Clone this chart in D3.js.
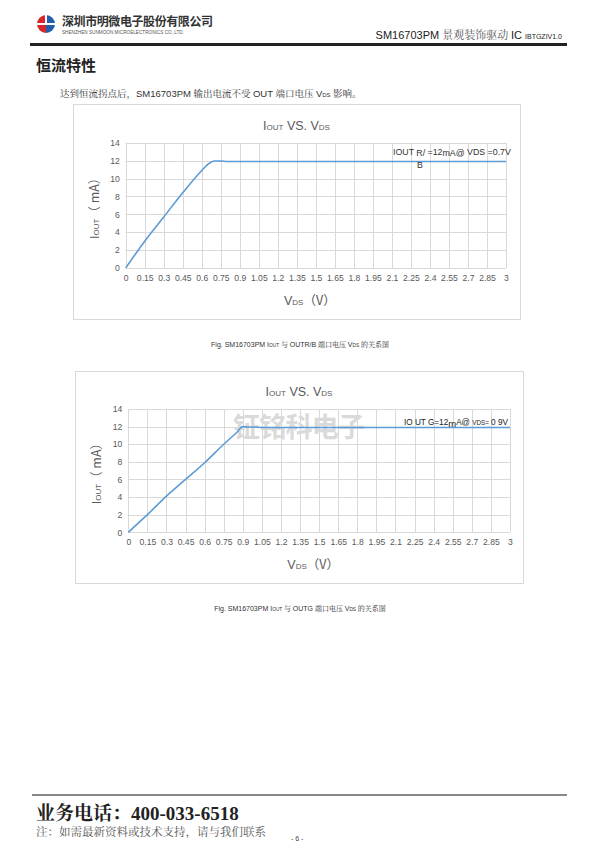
<!DOCTYPE html>
<html><head><meta charset="utf-8">
<script src="https://cdn.jsdelivr.net/npm/d3@7"></script>
<style>html,body{margin:0;padding:0;background:#fff;}svg{display:block;}</style>
</head><body>
<script>
// ---- data ----
const xTicks = [0,0.15,0.3,0.45,0.6,0.75,0.9,1.05,1.2,1.35,1.5,1.65,1.8,1.95,2.1,2.25,2.4,2.55,2.7,2.85,3];
const yTicks = [0,2,4,6,8,10,12,14];
const vdsRB = [0,0.15,0.3,0.45,0.6,0.65,0.7,0.75,0.8,0.9,1.2,1.5,1.8,2.1,2.4,2.7,3];
const ioutRB = [0,3.0,5.7,8.4,10.9,11.6,11.95,11.95,11.9,11.9,11.9,11.9,11.9,11.9,11.9,11.9,11.9];
const vdsG = [0,0.15,0.3,0.45,0.6,0.75,0.85,0.9,0.95,1.2,1.5,1.8,2.1,2.4,2.7,3];
const ioutG = [0,2.0,4.1,6.0,7.9,10.0,11.3,12.0,11.95,11.9,11.9,11.9,11.9,11.9,11.9,11.9];

const W=600,H=849;
const svg=d3.select("body").append("svg").attr("width",W).attr("height",H);
const sans="'Liberation Sans', Arial, sans-serif";
const cjk="'Noto Sans CJK SC', sans-serif";
const serif="'Liberation Serif','Noto Serif CJK SC','Noto Sans CJK SC',serif";

// ---- header ----
const lg=svg.append("g").attr("transform","translate(46,24)");
lg.append("path").attr("d",d3.arc()({innerRadius:0,outerRadius:9,startAngle:Math.PI,endAngle:2*Math.PI})).attr("fill","#d9262b");
lg.append("path").attr("d",d3.arc()({innerRadius:0,outerRadius:9,startAngle:0,endAngle:Math.PI})).attr("fill","#1f5fae");
lg.append("rect").attr("x",-9).attr("y",-1).attr("width",18).attr("height",2).attr("fill","#fff");
lg.append("rect").attr("x",-1).attr("y",-9).attr("width",2).attr("height",9).attr("fill","#fff");
svg.append("text").attr("x",62).attr("y",26).attr("font-family",cjk).attr("font-weight","bold").attr("font-size",12).attr("fill","#333").attr("textLength",151).text("深圳市明微电子股份有限公司");
svg.append("text").attr("x",62).attr("y",33.5).attr("font-family",sans).attr("font-size",4.6).attr("fill","#555").attr("textLength",122).text("SHENZHEN SUNMOON MICROELECTRONICS CO.,LTD.");
const ht=svg.append("text").attr("x",562).attr("y",39).attr("text-anchor","end").attr("fill","#222");
ht.append("tspan").attr("font-family",sans).attr("font-size",11).text("SM16703PM ");
ht.append("tspan").attr("font-family",serif).attr("font-size",11).attr("fill","#555").text("景观装饰驱动 ");
ht.append("tspan").attr("font-family",sans).attr("font-size",11).text("IC ");
ht.append("tspan").attr("font-family",sans).attr("font-size",7).text("IBTGZIV1.0");
svg.append("rect").attr("x",30).attr("y",43).attr("width",537).attr("height",3).attr("fill","#222");

svg.append("text").attr("x",36).attr("y",71).attr("font-family",cjk).attr("font-weight","bold").attr("font-size",15).attr("fill","#222").text("恒流特性");
const desc=svg.append("text").attr("x",60).attr("y",97).attr("font-size",9.5).attr("fill","#333");
desc.append("tspan").attr("font-family",serif).text("达到恒流拐点后，");
desc.append("tspan").attr("font-family",sans).text("SM16703PM ");
desc.append("tspan").attr("font-family",serif).text("输出电流不受  ");
desc.append("tspan").attr("font-family",sans).text("OUT ");
desc.append("tspan").attr("font-family",serif).text("端口电压  ");
desc.append("tspan").attr("font-family",sans).text("V");
desc.append("tspan").attr("font-family",sans).attr("font-size",6).text("DS");
desc.append("tspan").attr("font-family",serif).text(" 影响。");

// ---- chart ----
function chart(cfg){
  const g=svg.append("g");
  g.append("rect").attr("x",cfg.box[0]+0.5).attr("y",cfg.box[1]+0.5).attr("width",cfg.box[2]-cfg.box[0]).attr("height",cfg.box[3]-cfg.box[1]).attr("fill","#fff").attr("stroke","#d9d9d9");
  const x=d3.scaleLinear().domain([0,3]).range([cfg.plot[0],cfg.plot[1]]);
  const y=d3.scaleLinear().domain([0,14]).range([cfg.plot[3],cfg.plot[2]]);
  // grid
  g.append("g").selectAll("line").data(yTicks).join("line")
    .attr("x1",x(0)).attr("x2",x(3)).attr("y1",d=>Math.round(y(d))+0.5).attr("y2",d=>Math.round(y(d))+0.5).attr("stroke","#d9d9d9");
  g.append("g").selectAll("line").data(xTicks).join("line")
    .attr("y1",y(0)).attr("y2",y(14)).attr("x1",d=>Math.round(x(d))+0.5).attr("x2",d=>Math.round(x(d))+0.5).attr("stroke","#d9d9d9");
  if(cfg.watermark){
    g.append("text").attr("x",cfg.watermark[0]).attr("y",cfg.watermark[1]).attr("font-family",cjk).attr("font-weight","bold").attr("font-size",27).attr("fill","#dadada").attr("textLength",132).text("钲铭科电子");
  }
  const xa=d3.axisBottom(x).tickValues(xTicks).tickSize(0).tickPadding(0).tickFormat(d=>String(d));
  const xg=g.append("g").attr("transform",`translate(0,${y(0)+13})`).call(xa);
  xg.select(".domain").remove();
  xg.selectAll("text").attr("font-family",sans).attr("font-size",8.6).attr("fill","#595959").attr("dy","0");
  const ya=d3.axisLeft(y).tickValues(yTicks).tickSize(0).tickPadding(0).tickFormat(d=>String(d));
  const yg=g.append("g").attr("transform",`translate(${x(0)-6},0)`).call(ya);
  yg.select(".domain").remove();
  yg.selectAll("text").attr("font-family",sans).attr("font-size",8.6).attr("fill","#595959");
  const data=cfg.xs.map((v,i)=>[v,cfg.ys[i]]);
  g.append("path").datum(data).attr("fill","none").attr("stroke","#5b9bd5").attr("stroke-width",1.6)
    .attr("d",d3.line().x(d=>x(d[0])).y(d=>y(d[1])).curve(d3.curveMonotoneX));
  // title
  const bx=(cfg.box[0]+cfg.box[2])/2;
  const t=g.append("text").attr("x",bx).attr("y",cfg.plot[2]-13).attr("text-anchor","middle").attr("font-family",sans).attr("font-size",12.5).attr("fill","#595959");
  t.append("tspan").text("I");t.append("tspan").attr("font-size",8).text("OUT");t.append("tspan").text(" VS. V");t.append("tspan").attr("font-size",8).text("DS");
  const cx=(cfg.plot[0]+cfg.plot[1])/2;
  const xl=g.append("text").attr("x",cx-6).attr("y",y(0)+37).attr("text-anchor","middle").attr("font-family",sans).attr("font-size",12.5).attr("fill","#595959");
  xl.append("tspan").text("V");xl.append("tspan").attr("font-size",8).text("DS");xl.append("tspan").attr("font-family",cjk).text("（V）");
  const yl=g.append("text").attr("transform",`translate(${x(0)-27},${(y(0)+y(14))/2}) rotate(-90)`).attr("text-anchor","middle").attr("font-family",sans).attr("font-size",12.5).attr("fill","#595959");
  yl.append("tspan").text("I");yl.append("tspan").attr("font-size",8).text("OUT");yl.append("tspan").attr("font-family",cjk).text("（ mA）");
  cfg.note(g);
  const c=svg.append("text").attr("x",300).attr("y",cfg.box[3]+28).attr("text-anchor","middle").attr("font-size",7).attr("fill","#333");
  c.append("tspan").attr("font-family",sans).text("Fig. SM16703PM I");
  c.append("tspan").attr("font-family",sans).attr("font-size",4.8).text("OUT");
  c.append("tspan").attr("font-family",serif).text(" 与  ");
  c.append("tspan").attr("font-family",sans).text(cfg.port+" ");
  c.append("tspan").attr("font-family",serif).text("端口电压  ");
  c.append("tspan").attr("font-family",sans).text("V");
  c.append("tspan").attr("font-family",sans).attr("font-size",4.8).text("DS");
  c.append("tspan").attr("font-family",serif).text(" 的关系图");
}

chart({box:[73,104,520,319],plot:[125.7,506,142.7,268],xs:vdsRB,ys:ioutRB,port:"OUTR/B",
  note:g=>{
    const t=g.append("text").attr("x",393).attr("y",155).attr("font-family",sans).attr("font-size",8.8).attr("fill","#333");
    t.append("tspan").text("IOUT ");t.append("tspan").attr("dy",1).text("R/");t.append("tspan").attr("dy",-1).text("  =12");
    t.append("tspan").attr("dy",1).text("mA@");t.append("tspan").attr("dy",-1).text(" VDS =0.7V");
    g.append("text").attr("x",417).attr("y",168).attr("font-family",sans).attr("font-size",8.8).attr("fill","#333").text("B");
  }});
chart({box:[75,371,523,583],plot:[128.3,510,409,532.3],xs:vdsG,ys:ioutG,port:"OUTG",watermark:[233,437],
  note:g=>{
    const t=g.append("text").attr("x",404).attr("y",425).attr("font-family",sans).attr("font-size",8.2).attr("fill","#222");
    t.append("tspan").text("IO UT G=12");t.append("tspan").attr("dy",2).attr("font-size",9.5).text("m");
    t.append("tspan").attr("dy",-2).text("A@ ");t.append("tspan").attr("font-size",6.3).text("VDS=");t.append("tspan").text("  0  9V");
  }});

// ---- footer ----
svg.append("rect").attr("x",32).attr("y",794).attr("width",535).attr("height",2).attr("fill","#888");
const ft=svg.append("text").attr("x",36).attr("y",820).attr("font-family",serif).attr("font-weight","bold").attr("font-size",19).attr("fill","#222");
ft.append("tspan").text("业务电话：400-033-6518");
svg.append("text").attr("x",36).attr("y",836).attr("font-family",serif).attr("font-size",11.5).attr("fill","#555").text("注：如需最新资料或技术支持，请与我们联系");
svg.append("text").attr("x",291).attr("y",841).attr("font-family",sans).attr("font-size",7).attr("fill","#444").text("- 6 -");
</script>
</body></html>
